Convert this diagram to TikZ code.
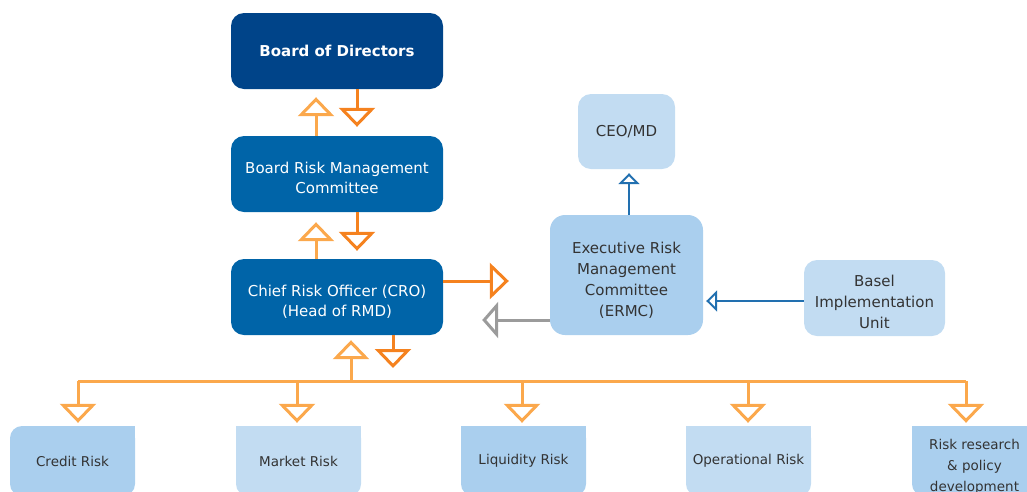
\documentclass[tikz,border=0pt]{standalone}
\usepackage{fontspec}
\setmainfont{DejaVu Sans}
\usetikzlibrary{arrows.meta,backgrounds}
\definecolor{navy}{HTML}{004489}
\definecolor{midblue}{HTML}{0064A8}
\definecolor{lblueA}{HTML}{AACFEE}
\definecolor{lblueB}{HTML}{C2DCF2}
\definecolor{orL}{HTML}{FBA84C}
\definecolor{orD}{HTML}{F5821F}
\definecolor{grayA}{HTML}{9B9B9B}
\definecolor{lineblue}{HTML}{2270B0}
\definecolor{txt}{HTML}{333333}
\newcommand\mltext[1]{\raisebox{-5.5pt}[\height][\depth]{\begin{tabular}{@{}c@{}}#1\end{tabular}}}
\tikzset{
  box/.style={rounded corners=13pt, inner sep=0pt, align=center, font=\fontsize{15}{20.7}\selectfont},
  darkbox/.style={box, fill=midblue, text=white, minimum width=212pt, minimum height=76pt},
  lightbox/.style={box, text=txt},
  unitbox/.style={rounded corners=12pt, inner sep=0pt, align=center, text=txt,
    minimum width=125pt, minimum height=70pt, font=\fontsize{13.5}{21}\selectfont},
  tipup/.style={draw=orL, line width=3pt, -{Triangle[open,length=19pt,width=36pt]}},
  tipdown/.style={draw=orD, line width=3pt, -{Triangle[open,length=19pt,width=36pt]}},
  grayarrow/.style={draw=grayA, line width=3pt, -{Triangle[open,length=16pt,width=36pt]}},
  bluearrow/.style={draw=lineblue, line width=2pt, -{Triangle[open,length=11pt,width=21pt]}},
  busline/.style={draw=orL, line width=3pt},
}
\begin{document}
\begin{tikzpicture}[x=1pt,y=-1pt]
\useasboundingbox (0,0) rectangle (1027,491);
% main chain
\node[darkbox, fill=navy, font=\fontsize{15}{20.7}\selectfont\bfseries] (bod) at (337,51) {Board of Directors};
\node[darkbox] (brmc) at (337,174) {\mltext{Board Risk Management\\Committee}};
\node[darkbox] (cro) at (337,297) {\mltext{Chief Risk Officer (CRO)\\(Head of RMD)}};
% right side
\node[lightbox, fill=lblueA, rounded corners=15pt, minimum width=153pt, minimum height=120pt, font=\fontsize{15}{21}\selectfont] (ermc) at (626.5,275) {\mltext{Executive Risk\\Management\\Committee\\(ERMC)}};
\node[lightbox, fill=lblueB, minimum width=97pt, minimum height=75pt] (ceo) at (626.5,131.5) {CEO/MD};
\node[lightbox, fill=lblueB, minimum width=141pt, minimum height=76pt] (basel) at (874.5,298) {\mltext{Basel\\Implementation\\Unit}};
% bottom units
\node[unitbox, fill=lblueA] (credit) at (72.5,461) {Credit Risk};
\node[unitbox, fill=lblueB] (market) at (298.5,461) {Market Risk};
\node[unitbox, fill=lblueA] (liq) at (523.5,461) {Liquidity Risk};
\node[unitbox, fill=lblueB] (oper) at (748.5,461) {Operational Risk};
\node[unitbox, fill=lblueA] (rrp) at (974.5,461) {\mltext{Risk research\\\& policy\\development}};
\begin{scope}[on background layer]
  \fill[lblueA] (credit.north) rectangle (credit.east);
  \fill[lblueB] (market.north west) rectangle (market.east);
  \fill[lblueA] (liq.north west) rectangle (liq.east);
  \fill[lblueB] (oper.north west) rectangle (oper.east);
  \fill[lblueA] (rrp.north west) rectangle (rrp.east);
\end{scope}
% arrows between main boxes
\draw[tipup, shorten >=8pt] ([xshift=-21pt]brmc.north) -- ([xshift=-21pt]bod.south);
\draw[tipdown, shorten >=9pt] ([xshift=20pt]bod.south) -- ([xshift=20pt]brmc.north);
\draw[tipup, shorten >=10pt] ([xshift=-21pt]cro.north) -- ([xshift=-21pt]brmc.south);
\draw[tipdown, shorten >=8pt] ([xshift=20pt]brmc.south) -- ([xshift=20pt]cro.north);
% CRO <-> ERMC
\draw[tipdown, shorten >=41pt] ([yshift=16pt]cro.east) -- ([yshift=16pt]cro.east -| ermc.west);
\draw[grayarrow, shorten >=39pt] ([yshift=-45pt]ermc.west) -- ([yshift=-45pt]ermc.west -| cro.east);
% blue links
\draw[bluearrow, shorten >=4pt] ([xshift=2.5pt]ermc.north) -- ([xshift=2.5pt]ceo.south);
\draw[bluearrow, shorten >=3pt] ([yshift=-3pt]basel.west) -- ([yshift=-3pt]basel.west -| ermc.east);
% bus
\coordinate (b1) at (78,381);
\coordinate (b2) at (297,381);
\coordinate (b3) at (522,381);
\coordinate (b4) at (748,381);
\coordinate (b5) at (966,381);
\coordinate (bu) at (351,381);
\coordinate (bd) at (393,381);
\draw[busline] (b1) -- (b5);
\draw[tipup, shorten >=5pt] (bu) -- (bu |- cro.south);
\draw[tipdown, shorten >=13pt] (bd |- cro.south) -- (bd);
\draw[tipup, shorten >=3pt] (b1) -- (b1 |- credit.north);
\draw[tipup, shorten >=3pt] (b2) -- (b2 |- market.north);
\draw[tipup, shorten >=3pt] (b3) -- (b3 |- liq.north);
\draw[tipup, shorten >=3pt] (b4) -- (b4 |- oper.north);
\draw[tipup, shorten >=3pt] (b5) -- (b5 |- rrp.north);
\end{tikzpicture}
\end{document}
